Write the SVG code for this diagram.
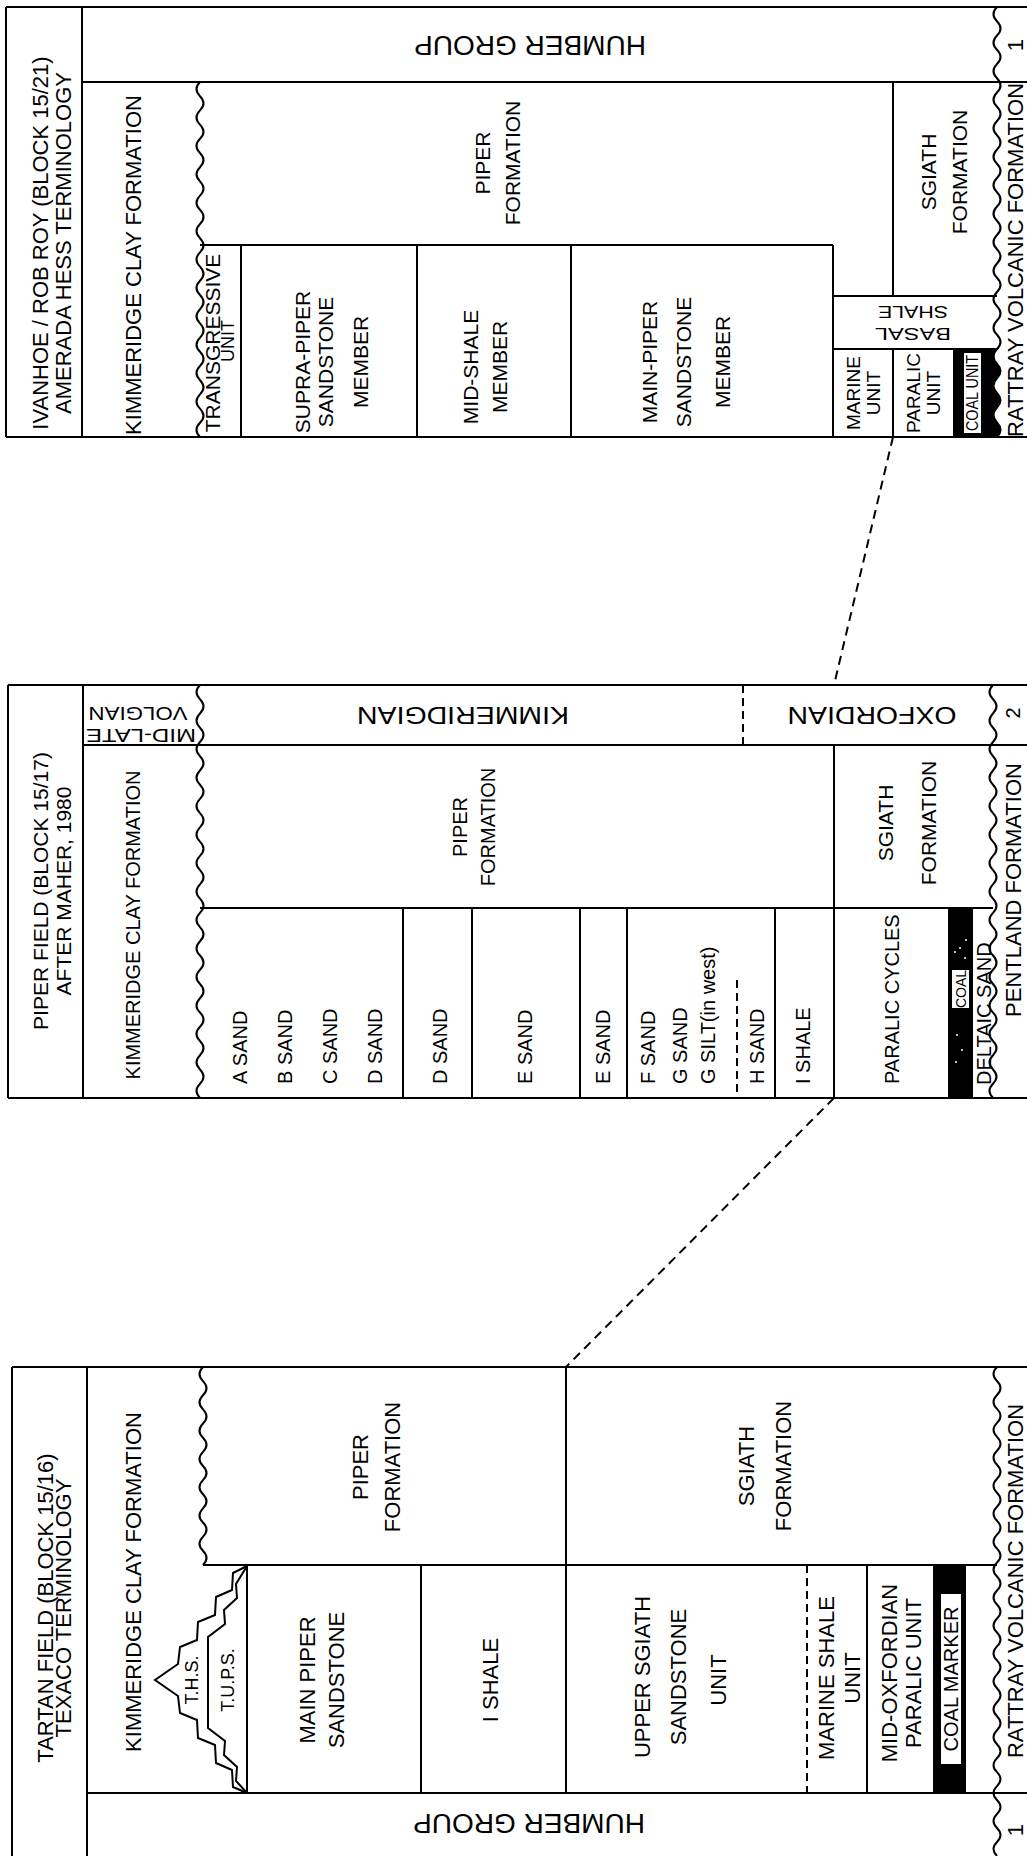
<svg xmlns="http://www.w3.org/2000/svg" width="1027" height="1856" viewBox="0 0 1027 1856">
<style>
.t{font-family:"Liberation Sans",Arial,Helvetica,sans-serif;fill:#000;text-anchor:middle;dominant-baseline:central}
.s{text-anchor:start}
.w{fill:#fff}
.l{fill:none;stroke:#000;stroke-width:2}
.d{stroke-dasharray:8 5}
.c{fill:none;stroke:#000;stroke-width:2;stroke-dasharray:9 6}
.f23{font-size:23px}.f22{font-size:22px}.f21{font-size:21px}.f20{font-size:20px}.f19{font-size:19px}.f18{font-size:18px}.f17{font-size:17px}.f16{font-size:16px}.f28{font-size:28px}.f24{font-size:24px}.f14{font-size:14px}
</style>
<rect width="1027" height="1856" fill="#fff"/>

<!-- ================= IVANHOE / ROB ROY ================= -->
<g id="ivanhoe">
  <g id="iv-frame">
    <path class="l" d="M6,7 H1027 M6,437 H1027 M6,7 V437 M82,7 V437 M82,82 H1027"/>
    <path class="l" d="M200,245 H833 M241,245 V437 M417,245 V437 M571,245 V437 M833,245 V437 M893,82 V296 M833,296 H997 M833,349 H997 M893,349 V437"/>
    <path class="l" d="M200,82 q-7,7.1 0,14.2 t0,14.2 t0,14.2 t0,14.2 t0,14.2 t0,14.2 t0,14.2 t0,14.2 t0,14.2 t0,14.2 t0,14.2 t0,14.2 t0,14.2 t0,14.2 t0,14.2 t0,14.2 t0,14.2 t0,14.2 t0,14.2 t0,14.2 t0,14.2 t0,14.2 t0,14.2 t0,14.2 t0,14.2"/>
    <path class="l" d="M997,7 q-7,7.125 0,14.25 t0,14.25 t0,14.25 t0,14.25 t0,14.25 t0,14.25 t0,14.25 t0,14.25 t0,14.25 t0,14.25 t0,14.25 t0,14.25 t0,14.25 t0,14.25 t0,14.25 t0,14.25 t0,14.25 t0,14.25 t0,14.25 t0,14.25 t0,14.25 t0,14.25 t0,14.25 t0,14.25"/>
    <path fill="#000" stroke="#000" stroke-width="2" d="M954,349 H997 q-7,7.33 0,14.67 t0,14.67 t0,14.67 t0,14.67 t0,14.67 t0,14.67 H954 Z"/>
  </g>
  <g id="iv-title">
    <text class="t f22" transform="translate(40,243) rotate(-90)">IVANHOE / ROB ROY (BLOCK 15/21)</text>
    <text class="t f22" transform="translate(63,243) rotate(-90)">AMERADA HESS TERMINOLOGY</text>
  </g>
  <g id="iv-humber"><text class="t f28" transform="translate(530,45) rotate(180)">HUMBER GROUP</text></g>
  <g id="iv-1"><text class="t f22" transform="translate(1015,45) rotate(-90)">1</text></g>
  <g id="iv-kimmeridge"><text class="t f22" transform="translate(133,265) rotate(-90)">KIMMERIDGE CLAY FORMATION</text></g>
  <g id="iv-piper">
    <text class="t f21" transform="translate(482,163) rotate(-90)">PIPER</text>
    <text class="t f21" transform="translate(512,163) rotate(-90)">FORMATION</text>
  </g>
  <g id="iv-sgiath">
    <text class="t f21" transform="translate(928,172) rotate(-90)">SGIATH</text>
    <text class="t f21" transform="translate(959,172) rotate(-90)">FORMATION</text>
  </g>
  <g id="iv-transgressive">
    <text class="t f21" transform="translate(212,343) rotate(-90)">TRANSGRESSIVE</text>
    <text class="t f18" transform="translate(228,341) rotate(-90)">UNIT</text>
  </g>
  <g id="iv-supra">
    <text class="t f21" transform="translate(302,362) rotate(-90)">SUPRA-PIPER</text>
    <text class="t f21" transform="translate(325,362) rotate(-90)">SANDSTONE</text>
    <text class="t f21" transform="translate(360,362) rotate(-90)">MEMBER</text>
  </g>
  <g id="iv-midshale">
    <text class="t f21" transform="translate(470,367) rotate(-90)">MID-SHALE</text>
    <text class="t f21" transform="translate(499,367) rotate(-90)">MEMBER</text>
  </g>
  <g id="iv-mainpiper">
    <text class="t f21" transform="translate(649,362) rotate(-90)">MAIN-PIPER</text>
    <text class="t f21" transform="translate(683,362) rotate(-90)">SANDSTONE</text>
    <text class="t f21" transform="translate(722,362) rotate(-90)">MEMBER</text>
  </g>
  <g id="iv-basal">
    <text class="t f17" transform="translate(913,333) rotate(180)" textLength="76" lengthAdjust="spacingAndGlyphs">BASAL</text>
    <text class="t f17" transform="translate(913,311) rotate(180)" textLength="70" lengthAdjust="spacingAndGlyphs">SHALE</text>
  </g>
  <g id="iv-marine">
    <text class="t f19" transform="translate(853,393) rotate(-90)">MARINE</text>
    <text class="t f19" transform="translate(873,393) rotate(-90)">UNIT</text>
  </g>
  <g id="iv-paralic">
    <text class="t f19" transform="translate(913,393) rotate(-90)">PARALIC</text>
    <text class="t f19" transform="translate(933,393) rotate(-90)">UNIT</text>
  </g>
  <g id="iv-coal">
    <rect class="w" x="964" y="353" width="17" height="80"/>
    <text class="t f16" transform="translate(972.5,393) rotate(-90)" textLength="76" lengthAdjust="spacingAndGlyphs">COAL UNIT</text>
  </g>
  <g id="iv-rattray"><text class="t f22" transform="translate(1015,260) rotate(-90)">RATTRAY VOLCANIC FORMATION</text></g>
</g>

<!-- ================= PIPER FIELD ================= -->
<g id="piper">
  <g id="pf-frame">
    <path class="l" d="M8,685 H1027 M8,1098 H1027 M8,685 V1098 M83,685 V1098 M83,745 H1027 M200,908 H993 M834,745 V1098"/>
    <path class="l d" d="M743,685 V745 M737,980 V1098"/>
    <path class="l" d="M403,908 V1098 M472,908 V1098 M580,908 V1098 M627,908 V1098 M775,908 V1098"/>
    <path class="l" d="M200,685 q-7,7.12 0,14.24 t0,14.24 t0,14.24 t0,14.24 t0,14.24 t0,14.24 t0,14.24 t0,14.24 t0,14.24 t0,14.24 t0,14.24 t0,14.24 t0,14.24 t0,14.24 t0,14.24 t0,14.24 t0,14.24 t0,14.24 t0,14.24 t0,14.24 t0,14.24 t0,14.24 t0,14.24 t0,14.24 t0,14.24 t0,14.24 t0,14.24 t0,14.24 t0,14.24"/>
    <path class="l" d="M993,685 q-7,7.12 0,14.24 t0,14.24 t0,14.24 t0,14.24 t0,14.24 t0,14.24 t0,14.24 t0,14.24 t0,14.24 t0,14.24 t0,14.24 t0,14.24 t0,14.24 t0,14.24 t0,14.24 t0,14.24 t0,14.24 t0,14.24 t0,14.24 t0,14.24 t0,14.24 t0,14.24 t0,14.24 t0,14.24 t0,14.24 t0,14.24 t0,14.24 t0,14.24 t0,14.24"/>
    <rect x="948" y="908" width="25" height="190" fill="#000"/>
    <g fill="#fff"><circle cx="956" cy="1062" r="1"/><circle cx="962" cy="1050" r="1"/><circle cx="957" cy="1035" r="1"/><circle cx="965" cy="958" r="1"/><circle cx="960" cy="948" r="1"/><circle cx="966" cy="940" r="1"/><circle cx="955" cy="952" r="1"/></g>
  </g>
  <g id="pf-title">
    <text class="t f21" transform="translate(40,891) rotate(-90)">PIPER FIELD (BLOCK 15/17)</text>
    <text class="t f21" transform="translate(63,891) rotate(-90)">AFTER MAHER, 1980</text>
  </g>
  <g id="pf-volgian">
    <text class="t f18" transform="translate(141,735) rotate(180)" textLength="110" lengthAdjust="spacingAndGlyphs">MID-LATE</text>
    <text class="t f18" transform="translate(138,713) rotate(180)" textLength="99" lengthAdjust="spacingAndGlyphs">VOLGIAN</text>
  </g>
  <g id="pf-kimmeridgian"><text class="t f24" transform="translate(463,715) rotate(180)" textLength="212" lengthAdjust="spacingAndGlyphs">KIMMERIDGIAN</text></g>
  <g id="pf-oxfordian"><text class="t f24" transform="translate(872,715) rotate(180)" textLength="169" lengthAdjust="spacingAndGlyphs">OXFORDIAN</text></g>
  <g id="pf-2"><text class="t f20" transform="translate(1013,713) rotate(-90)">2</text></g>
  <g id="pf-kimmeridge"><text class="t f20" transform="translate(133,925) rotate(-90)">KIMMERIDGE CLAY FORMATION</text></g>
  <g id="pf-piper">
    <text class="t f20" transform="translate(460,827) rotate(-90)">PIPER</text>
    <text class="t f20" transform="translate(488,827) rotate(-90)">FORMATION</text>
  </g>
  <g id="pf-sgiath">
    <text class="t f21" transform="translate(885,823) rotate(-90)">SGIATH</text>
    <text class="t f21" transform="translate(928,823) rotate(-90)">FORMATION</text>
  </g>
  <g id="pf-sands">
    <text class="t s f20" transform="translate(240,1084) rotate(-90)">A SAND</text>
    <text class="t s f20" transform="translate(285,1084) rotate(-90)">B SAND</text>
    <text class="t s f20" transform="translate(330,1084) rotate(-90)">C SAND</text>
    <text class="t s f20" transform="translate(375,1084) rotate(-90)">D SAND</text>
    <text class="t s f20" transform="translate(440,1084) rotate(-90)">D SAND</text>
    <text class="t s f20" transform="translate(525,1084) rotate(-90)">E SAND</text>
    <text class="t s f20" transform="translate(603,1084) rotate(-90)">E SAND</text>
    <text class="t s f20" transform="translate(648,1084) rotate(-90)">F SAND</text>
    <text class="t s f20" transform="translate(680,1084) rotate(-90)">G SAND</text>
    <text class="t s f20" transform="translate(708,1084) rotate(-90)">G SILT(in west)</text>
    <text class="t s f20" transform="translate(757,1084) rotate(-90)">H SAND</text>
    <text class="t s f20" transform="translate(803,1084) rotate(-90)">I SHALE</text>
  </g>
  <g id="pf-paralic"><text class="t s f20" transform="translate(892,1084) rotate(-90)">PARALIC CYCLES</text></g>
  <g id="pf-coal">
    <rect class="w" x="952" y="970" width="17" height="38"/>
    <text class="t f14" transform="translate(961,989) rotate(-90)">COAL</text>
  </g>
  <g id="pf-deltaic"><text class="t s f20" transform="translate(984,1085) rotate(-90)">DELTAIC SAND</text></g>
  <g id="pf-pentland"><text class="t f22" transform="translate(1013,890) rotate(-90)">PENTLAND FORMATION</text></g>
</g>

<!-- ================= TARTAN FIELD ================= -->
<g id="tartan">
  <g id="tf-frame">
    <path class="l" d="M12,1367 H1027 M12,1367 V1856 M87,1367 V1856 M87,1793 H1027 M203,1565 H997 M247,1565 V1793 M421,1565 V1793 M566,1367 V1793 M867,1565 V1793"/>
    <path class="l d" d="M807,1565 V1793"/>
    <path class="l" d="M203,1367 q-7,7.07 0,14.14 t0,14.14 t0,14.14 t0,14.14 t0,14.14 t0,14.14 t0,14.14 t0,14.14 t0,14.14 t0,14.14 t0,14.14 t0,14.14 t0,14.14 t0,14.14"/>
    <path class="l" d="M997,1367 q-7,6.99 0,13.97 t0,13.97 t0,13.97 t0,13.97 t0,13.97 t0,13.97 t0,13.97 t0,13.97 t0,13.97 t0,13.97 t0,13.97 t0,13.97 t0,13.97 t0,13.97 t0,13.97 t0,13.97 t0,13.97 t0,13.97 t0,13.97 t0,13.97 t0,13.97 t0,13.97 t0,13.97 t0,13.97 t0,13.97 t0,13.97 t0,13.97 t0,13.97 t0,13.97 t0,13.97 t0,13.97 t0,13.97 t0,13.97 t0,13.97 t0,13.97"/>
    <rect x="933" y="1565" width="33" height="228" fill="#000"/>
  </g>
  <g id="tf-title">
    <text class="t f22" transform="translate(45,1608) rotate(-90)">TARTAN FIELD (BLOCK 15/16)</text>
    <text class="t f22" transform="translate(63,1608) rotate(-90)">TEXACO TERMINOLOGY</text>
  </g>
  <g id="tf-kimmeridge"><text class="t f22" transform="translate(133,1582) rotate(-90)">KIMMERIDGE CLAY FORMATION</text></g>
  <g id="tf-ths">
    <path class="l" stroke-width="1.6" d="M247,1566 L233,1573 L232,1590 L216,1597 L215,1615 L198,1622 L197,1640 L180,1647 L178,1664 L155,1680 L178,1696 L180,1713 L197,1720 L198,1738 L215,1745 L216,1763 L232,1770 L233,1787 L247,1793"/>
    <path class="l" stroke-width="1.6" d="M247,1566 L236,1584 L237,1598 L224,1610 L225,1624 L208,1637 V1728 L225,1741 L224,1755 L237,1767 L236,1781 L247,1793"/>
    <text class="t f18" transform="translate(192,1680) rotate(-90)">T.H.S.</text>
    <text class="t f18" transform="translate(228,1680) rotate(-90)">T.U.P.S.</text>
  </g>
  <g id="tf-piper">
    <text class="t f22" transform="translate(360,1467) rotate(-90)">PIPER</text>
    <text class="t f22" transform="translate(392,1467) rotate(-90)">FORMATION</text>
  </g>
  <g id="tf-mainpiper">
    <text class="t f22" transform="translate(307,1680) rotate(-90)">MAIN PIPER</text>
    <text class="t f22" transform="translate(336,1680) rotate(-90)">SANDSTONE</text>
  </g>
  <g id="tf-ishale"><text class="t f22" transform="translate(490,1680) rotate(-90)">I SHALE</text></g>
  <g id="tf-uppersgiath">
    <text class="t f22" transform="translate(642,1677) rotate(-90)">UPPER SGIATH</text>
    <text class="t f22" transform="translate(678,1677) rotate(-90)">SANDSTONE</text>
    <text class="t f22" transform="translate(718,1680) rotate(-90)">UNIT</text>
  </g>
  <g id="tf-sgiath">
    <text class="t f22" transform="translate(746,1466) rotate(-90)">SGIATH</text>
    <text class="t f22" transform="translate(783,1466) rotate(-90)">FORMATION</text>
  </g>
  <g id="tf-marineshale">
    <text class="t f22" transform="translate(826,1678) rotate(-90)">MARINE SHALE</text>
    <text class="t f22" transform="translate(852,1678) rotate(-90)">UNIT</text>
  </g>
  <g id="tf-midox">
    <text class="t f22" transform="translate(889,1673) rotate(-90)">MID-OXFORDIAN</text>
    <text class="t f22" transform="translate(913,1673) rotate(-90)">PARALIC UNIT</text>
  </g>
  <g id="tf-coal">
    <rect class="w" x="941" y="1594" width="20" height="170"/>
    <text class="t f20" transform="translate(951,1679) rotate(-90)">COAL MARKER</text>
  </g>
  <g id="tf-rattray"><text class="t f22" transform="translate(1015,1581) rotate(-90)">RATTRAY VOLCANIC FORMATION</text></g>
  <g id="tf-humber"><text class="t f28" transform="translate(529,1823) rotate(180)">HUMBER GROUP</text></g>
  <g id="tf-1"><text class="t f22" transform="translate(1015,1830) rotate(-90)">1</text></g>
</g>

<!-- ================= CONNECTORS ================= -->
<g id="connectors">
  <path class="c" d="M893,437 L834,685"/>
  <path class="c" d="M834,1098 L566,1367"/>
</g>
</svg>
